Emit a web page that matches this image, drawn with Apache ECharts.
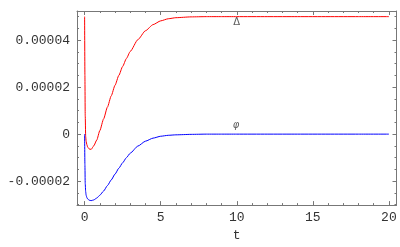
<!DOCTYPE html>
<html>
<head>
<meta charset="utf-8">
<script src="https://cdn.jsdelivr.net/npm/echarts@6/dist/echarts.min.js"></script>
<style>
html,body{margin:0;padding:0;background:#fff;}
#c{width:400px;height:247px;}
</style>
</head>
<body>
<div id="c"></div>
<script>
// ---- data ----
const tValues = [0, 0.02, 0.04, 0.07, 0.1, 0.15, 0.2, 0.3, 0.43, 0.6, 0.8, 1.0, 1.25, 1.5, 1.75, 2.0, 2.25, 2.5, 2.75, 3.0, 3.5, 4.0, 4.5, 5.0, 5.5, 6.0, 7.0, 8.0, 9.0, 10, 12, 14, 16, 18, 20];
const deltaValues = [5.0e-5, 2.5e-5, 0.8e-5, -0.1e-5, -0.3e-5, -0.45e-5, -0.55e-5, -0.63e-5, -0.65e-5, -0.5e-5, -0.25e-5, 0.15e-5, 0.65e-5, 1.15e-5, 1.63e-5, 2.08e-5, 2.5e-5, 2.88e-5, 3.22e-5, 3.52e-5, 4.02e-5, 4.4e-5, 4.66e-5, 4.82e-5, 4.91e-5, 4.955e-5, 4.99e-5, 5.0e-5, 5.0e-5, 5.0e-5, 5.0e-5, 5.0e-5, 5.0e-5, 5.0e-5, 5.0e-5];
const phiValues = [0, -1.3e-5, -2.1e-5, -2.45e-5, -2.6e-5, -2.7e-5, -2.76e-5, -2.81e-5, -2.83e-5, -2.8e-5, -2.72e-5, -2.6e-5, -2.42e-5, -2.19e-5, -1.95e-5, -1.7e-5, -1.45e-5, -1.22e-5, -1.0e-5, -0.81e-5, -0.51e-5, -0.3e-5, -0.17e-5, -0.09e-5, -0.05e-5, -0.03e-5, -0.01e-5, 0, 0, 0, 0, 0, 0, 0, 0];
const xMajorTicks = [0, 5, 10, 15, 20];
const xMinorTicks = [1, 2, 3, 4, 6, 7, 8, 9, 11, 12, 13, 14, 16, 17, 18, 19];
const yMajorTicks = [-2e-5, 0, 2e-5, 4e-5];
const yMinorTicks = [-3e-5, -2.5e-5, -1.5e-5, -1e-5, -0.5e-5, 0.5e-5, 1e-5, 1.5e-5, 2.5e-5, 3e-5, 3.5e-5, 4.5e-5, 5e-5];
const curveLabels = [
  { name: 'Δ', t: 10, v: 4.74e-5, italic: false },
  { name: 'φ', t: 9.95, v: 0.36e-5, italic: true }
];
const xRange = [-0.5, 20.5];
const yRange = [-3.02e-5, 5.24e-5];

// ---- chart ----
const frameColor = '#777';
const textColor = '#333';
const monoFont = 'Liberation Mono';

function xAx(position, ticks, len, showLine, showLabel) {
  return {
    type: 'value', position: position, min: xRange[0], max: xRange[1],
    axisLine: { show: showLine, onZero: false, lineStyle: { color: frameColor, width: 1 } },
    axisTick: { show: true, inside: true, length: len, customValues: ticks, lineStyle: { color: frameColor, width: 1 } },
    axisLabel: { show: showLabel, customValues: ticks, color: textColor, fontFamily: monoFont, fontSize: 13, margin: 6 },
    splitLine: { show: false },
    name: showLabel ? 't' : '', nameLocation: 'middle', nameGap: 21,
    nameTextStyle: { color: textColor, fontFamily: monoFont, fontSize: 13 }
  };
}
function yAx(position, ticks, len, showLine, showLabel) {
  return {
    type: 'value', position: position, min: yRange[0], max: yRange[1],
    axisLine: { show: showLine, onZero: false, lineStyle: { color: frameColor, width: 1 } },
    axisTick: { show: true, inside: true, length: len, customValues: ticks, lineStyle: { color: frameColor, width: 1 } },
    axisLabel: { show: showLabel, customValues: ticks, color: textColor, fontFamily: monoFont, fontSize: 13, margin: 7,
      formatter: function (v) { return Math.abs(v) < 1e-12 ? '0' : v.toFixed(5); } },
    splitLine: { show: false }
  };
}

const chart = echarts.init(document.getElementById('c'), null, { renderer: 'canvas' });
chart.setOption({
  animation: false,
  backgroundColor: '#fff',
  grid: { left: 77, top: 11, right: 3.5, bottom: 39, containLabel: false },
  xAxis: [
    xAx('bottom', xMajorTicks, 4, true, true),
    xAx('top', xMajorTicks, 4, true, false),
    xAx('bottom', xMinorTicks, 2, false, false),
    xAx('top', xMinorTicks, 2, false, false)
  ],
  yAxis: [
    yAx('left', yMajorTicks, 4, true, true),
    yAx('right', yMajorTicks, 4, true, false),
    yAx('left', yMinorTicks, 2, false, false),
    yAx('right', yMinorTicks, 2, false, false)
  ],
  series: [
    {
      type: 'line', name: 'Δ', xAxisIndex: 0, yAxisIndex: 0,
      data: tValues.map((t, i) => [t, deltaValues[i]]),
      showSymbol: false, smooth: 0.2, smoothMonotone: 'x',
      lineStyle: { color: '#ff0000', width: 1 }
    },
    {
      type: 'line', name: 'φ', xAxisIndex: 0, yAxisIndex: 0,
      data: tValues.map((t, i) => [t, phiValues[i]]),
      showSymbol: false, smooth: 0.2, smoothMonotone: 'x',
      lineStyle: { color: '#0000ff', width: 1 }
    },
    {
      type: 'scatter', xAxisIndex: 0, yAxisIndex: 0, symbolSize: 0,
      data: curveLabels.map(d => ({
        value: [d.t, d.v],
        label: { show: true, position: 'inside', formatter: d.name, color: '#333',
          fontFamily: 'DejaVu Sans', fontSize: 10, fontStyle: d.italic ? 'italic' : 'normal' }
      })),
      silent: true
    }
  ]
});
</script>
</body>
</html>
